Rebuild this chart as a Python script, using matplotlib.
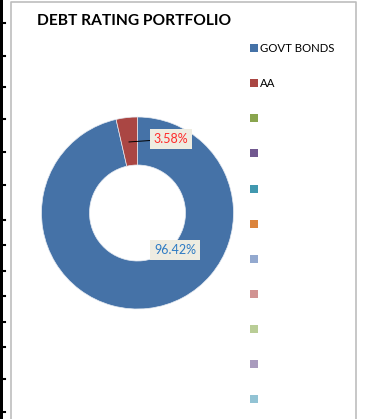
import matplotlib
matplotlib.use("Agg")
import matplotlib.pyplot as plt
from matplotlib.patches import Patch, Rectangle
from matplotlib.lines import Line2D

plt.rcParams['font.family'] = ['Lato', 'DejaVu Sans']

# Portfolio composition by rating
categories = ['GOVT BONDS', 'AA', '', '', '', '', '', '', '', '', '']
shares = [96.42, 3.58, 0, 0, 0, 0, 0, 0, 0, 0, 0]
colors = ['#4572A7', '#AA4643', '#89A54E', '#71588F', '#4198AF', '#DB843D',
          '#93A9CF', '#D19392', '#B9CD96', '#A99BBD', '#92C3D4']
label_colors = ['#2E7BC4', '#FF2A2A']

W, H = 365, 419
fig = plt.figure(figsize=(W / 100, H / 100), dpi=100)
fig.patch.set_facecolor('white')

def fx(px):
    return px / W

def fy(py):
    return 1 - py / H

# spreadsheet gridline edge on the far left
fig.patches.append(Rectangle((0, 0), fx(3), 1, transform=fig.transFigure,
                             facecolor='black', edgecolor='none'))
for ty in [23, 56, 87, 119, 152, 185, 220, 245, 271, 296, 322, 347, 379, 412]:
    fig.lines.append(Line2D([0, fx(5)], [fy(ty), fy(ty)], transform=fig.transFigure,
                            color='black', lw=1.5))

# chart area border
fig.lines.append(Line2D([fx(10.5), fx(10.5), fx(355.5), fx(355.5)],
                        [0, fy(2.5), fy(2.5), 0], transform=fig.transFigure,
                        color='#BDBDBD', lw=1.2))

# donut
cx, cy, r = 137.5, 213, 96
ax = fig.add_axes([fx(cx - r), fy(cy + r), fx(2 * r), 2 * r / H])
wedges, _ = ax.pie(shares, colors=colors, startangle=90, counterclock=False,
                   radius=1.0, wedgeprops=dict(width=0.5, edgecolor='#E6EBF2', linewidth=0.5))
for w, v in zip(wedges, shares):
    if v == 0:
        w.set_linewidth(0)
ax.set_xlim(-1, 1)
ax.set_ylim(-1, 1)
ax.axis('off')

box = dict(boxstyle='square,pad=0.3', facecolor='#EEECE1', edgecolor='none')
ax.annotate(f'{shares[1]:.2f}%', xy=(-0.09, 0.74), xytext=(0.35, 0.77),
            ha='center', va='center', fontsize=9, color=label_colors[1], bbox=box,
            arrowprops=dict(arrowstyle='-', color='black', lw=0.7, shrinkB=0, shrinkA=0))
ax.text(0.39, -0.385, f'{shares[0]:.2f}%', ha='center', va='center', fontsize=9,
        color=label_colors[0], bbox=box)

# title
fig.text(fx(37), fy(21), 'DEBT RATING PORTFOLIO', ha='left', va='center',
         fontsize=11.2, fontweight='bold', color='black')

# legend
handles = [Patch(facecolor=c, edgecolor='none') for c in colors]
fig.legend(handles, categories, loc='upper left', bbox_to_anchor=(fx(250), fy(43)),
           frameon=False, fontsize=8.2, handlelength=0.7, handleheight=0.7,
           handletextpad=0.2, labelspacing=2.12, borderaxespad=0, borderpad=0)

fig.savefig('out.png', dpi=100)
